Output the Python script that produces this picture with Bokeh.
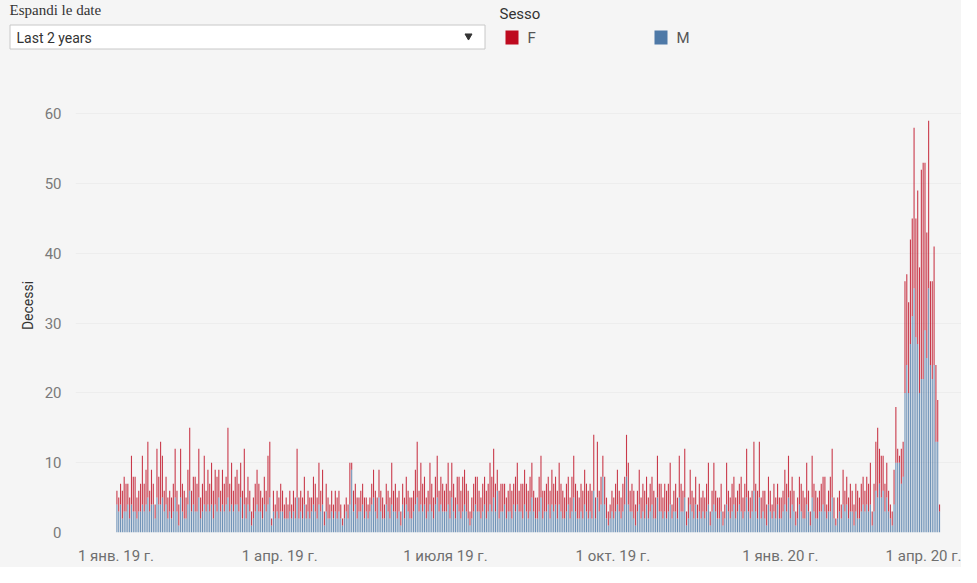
import pandas as pd
from bokeh.plotting import figure
from bokeh.layouts import column
from bokeh.models import ColumnDataSource, Range1d, FixedTicker
from bokeh.core.properties import value
from bokeh.embed import file_html
from bokeh.resources import INLINE

# ---------------- data (daily deaths) ----------------
START = "2019-01-01"

M = [
    # 2019-01
    4,3,4,2,3,3,4,2,4,3, 3,2,3,3,4,3,4,5,3,4, 4,2,5,4,4,5,3,4,2,3, 2,
    # 2019-02
    3,5,3,1,5,3,2,2,4,6, 3,4,3,3,5,2,3,4,3,4, 3,4,2,4,3,5,3,4,
    # 2019-03
    3,4,5,3,4,3,4,4,3,5, 2,4,2,4,3,1,2,3,4,3, 3,2,4,3,4,5,1,3,2,3, 2,
    # 2019-04
    3,3,2,2,2,3,2,3,2,5, 2,3,2,4,2,3,2,3,4,3, 2,4,3,4,1,3,2,2,3,2,
    # 2019-05
    3,2,3,2,1,2,3,2,4,9, 3,4,2,3,3,4,2,3,2,3, 4,5,3,2,5,3,2,2,4,3, 2,
    # 2019-06
    4,3,3,2,3,1,4,2,4,3, 2,2,3,4,5,3,4,3,4,2, 3,4,3,2,4,5,3,4,3,3,
    # 2019-07
    3,4,2,5,3,2,4,3,2,3, 4,3,2,1,2,3,4,3,3,2, 3,4,2,3,4,3,5,3,6,2, 3,
    # 2019-08
    3,4,2,3,3,2,4,3,4,3, 3,2,4,3,2,3,5,3,2,2, 3,5,2,3,3,4,2,4,3,4, 2,
    # 2019-09
    4,3,2,2,3,4,2,3,5,3, 2,2,3,2,4,3,2,3,2,6, 2,5,3,4,8,4,2,1,2,3,
    # 2019-10
    2,3,4,3,2,3,4,8,4,3, 3,2,1,3,4,2,3,2,4,2, 3,4,2,2,5,3,3,2,3,2, 3,
    # 2019-11
    4,2,3,3,2,5,3,3,5,1, 2,4,3,2,4,2,3,2,3,2, 3,4,1,3,4,3,2,2,3,1,
    # 2019-12
    2,4,3,2,3,4,2,3,4,3, 2,3,5,3,2,3,6,3,2,5, 2,3,2,1,4,3,2,3,2,4, 2,
    # 2020-01
    2,3,4,3,5,2,4,3,1,2, 4,3,2,2,4,3,1,5,3,2, 2,3,3,4,3,2,3,3,5,2, 1,
    # 2020-02
    2,3,2,4,3,4,2,3,3,1, 3,2,2,3,4,3,4,3,4,1, 3,6,5,7,5,6,3,5,3,
    # 2020-03
    2,1,4,10,10,10,7,8,20,24, 20,27,31,35,28,27,20,22,22,29, 25,35,24,22,24,13,13,3,
]

F = [
    # 2019-01
    2,2,3,4,5,4,3,3,7,5, 5,3,3,4,7,4,5,8,3,5, 3,2,7,4,9,6,3,4,3,3, 3,
    # 2019-02
    4,7,3,3,7,4,4,3,5,9, 3,4,5,4,7,3,4,7,3,5, 4,6,4,5,5,4,3,5,
    # 2019-03
    4,4,10,4,6,3,4,5,4,5, 4,8,3,4,3,2,3,4,5,4, 3,3,4,3,7,8,1,3,2,3, 3,
    # 2019-04
    4,3,2,3,2,3,2,3,3,7, 3,3,3,4,2,3,3,2,4,4, 3,6,3,5,2,4,3,2,3,2,
    # 2019-05
    3,3,3,2,1,2,2,2,6,1, 3,3,3,2,3,3,3,2,2,2, 3,4,3,3,4,3,3,2,3,3, 3,
    # 2019-06
    6,3,4,3,3,2,3,3,4,3, 3,3,3,5,8,3,6,4,4,3, 3,6,4,3,4,6,3,4,4,3,
    # 2019-07
    4,6,4,5,4,3,4,5,4,5, 5,4,4,2,3,4,4,5,3,3, 4,4,4,4,6,5,7,4,3,4, 4,
    # 2019-08
    4,3,3,3,4,4,3,5,6,3, 4,5,5,4,4,5,5,3,3,3, 5,6,4,3,4,4,4,5,4,4, 4,
    # 2019-09
    6,4,4,3,4,4,3,5,6,4, 4,3,4,4,5,4,4,4,4,8, 3,8,3,4,3,4,3,2,2,3,
    # 2019-10
    3,4,5,3,3,4,4,6,6,3, 4,4,3,3,5,3,4,4,4,3, 4,4,4,3,6,4,4,3,4,4, 4,
    # 2019-11
    6,2,3,4,3,6,4,3,7,2, 3,5,3,3,4,2,4,3,3,3, 4,6,2,3,6,3,3,3,4,2,
    # 2019-12
    2,6,3,3,4,4,3,3,3,5, 3,4,7,3,3,3,7,4,4,8, 3,3,4,3,4,3,2,4,3,3, 3,
    # 2020-01
    3,3,5,4,6,4,4,3,2,3, 4,4,4,3,6,3,2,6,4,4, 3,3,4,4,5,2,3,5,7,3, 1,
    # 2020-02
    3,3,2,5,3,4,3,4,3,3, 4,4,3,4,4,3,4,4,6,2, 4,7,10,5,6,5,4,5,3,
    # 2020-03
    2,2,5,8,2,1,5,5,16,13, 13,15,14,23,17,22,18,30,31,24, 18,24,12,14,17,11,6,1,
]

TICK_DATES = ["2019-01-01", "2019-04-01", "2019-07-01", "2019-10-01", "2020-01-01", "2020-04-01"]
TICK_LABELS = ["1 янв. 19 г.", "1 апр. 19 г.", "1 июля 19 г.", "1 окт. 19 г.", "1 янв. 20 г.", "1 апр. 20 г."]
Y_TICKS = [0, 10, 20, 30, 40, 50, 60]
SERIES = ["M", "F"]           # stacking order, bottom first
LEGEND = ["F", "M"]
FILTER_TITLE = "Espandi le date"
FILTER_VALUE = "Last 2 years"
LEGEND_TITLE = "Sesso"

# ---------------- style ----------------
BG = "#f5f5f5"
RED = "#be0a1f"
BLUE = "#4e79a7"
COLORS = {"F": RED, "M": BLUE}
SANS = "Roboto"
W, H = 961, 567
HEADER_H = 78                                # header strip height (page px)
FRAME_L, FRAME_B = 75, 540                   # chart frame edges in page pixels
PX_DAY = 1.82                                # pixels per day on the x axis
Y_TOP = 65.07                                # value at the top of the frame
DAY_MS = 86400000.0


def ms(ts):
    return pd.Timestamp(ts).value / 1e6


def no_align(fig):
    if "frame_align" in fig.properties():
        fig.frame_align = False


t0 = ms(START)
JAN1_PX = 115.5                              # page x of 1 Jan 2019
x_start = t0 + (FRAME_L - JAN1_PX) / PX_DAY * DAY_MS
x_end = t0 + (W - JAN1_PX) / PX_DAY * DAY_MS

dates = pd.date_range(START, periods=len(M), freq="D") + pd.Timedelta(hours=12)
src = ColumnDataSource(dict(date=dates, M=M, F=F))

# ---------------- header (filter + legend) ----------------
h = figure(width=W, height=HEADER_H, x_range=Range1d(0, W), y_range=Range1d(HEADER_H, 0),
           output_backend="svg", toolbar_location=None, min_border=0,
           background_fill_color=BG, border_fill_color=BG, outline_line_color=None)
h.axis.visible = False
h.grid.visible = False
no_align(h)

h.text(x=[9], y=[1], text=[FILTER_TITLE], text_font=value("Liberation Serif"),
       text_font_size="15px", text_baseline="top", text_color="#333333")
h.quad(left=[9.5], right=[484.5], top=[24.5], bottom=[48.5], fill_color="white",
       line_color="#c8c8c8", line_width=1)
h.text(x=[16], y=[37], text=[FILTER_VALUE], text_font=value(SANS),
       text_font_size="14px", text_baseline="middle", text_color="#333333")
h.scatter(x=[468], y=[35.5], marker="inverted_triangle", size=7, color="#333333")

h.text(x=[499], y=[4], text=[LEGEND_TITLE], text_font=value(SANS),
       text_font_size="15px", text_baseline="top", text_color="#333333")
leg_x = [505, 654]
h.quad(left=leg_x, right=[x + 13 for x in leg_x], top=[30] * 2, bottom=[44] * 2,
       fill_color=[COLORS[k] for k in LEGEND], line_color=None)
h.text(x=[x + 22 for x in leg_x], y=[37] * 2, text=LEGEND, text_font=value(SANS),
       text_font_size="15px", text_baseline="middle", text_color="#555555")

# ---------------- main chart ----------------
p = figure(width=W, height=H - HEADER_H, x_axis_type="datetime",
           x_range=Range1d(x_start, x_end), y_range=Range1d(0, Y_TOP),
           output_backend="svg", toolbar_location=None,
           min_border_left=FRAME_L, min_border_right=0, min_border_top=0,
           min_border_bottom=H - FRAME_B,
           background_fill_color=BG, border_fill_color=BG, outline_line_color=None)
no_align(p)

p.vbar_stack(SERIES, x="date", width=0.6 * DAY_MS, source=src,
             fill_color=[COLORS[s] for s in SERIES], fill_alpha=0.8, line_color=None)

ticks = [ms(d) for d in TICK_DATES]
# Tableau pulls the right-most label inside the view
ticks[-1] -= 5.7 * DAY_MS
p.xaxis.ticker = FixedTicker(ticks=ticks)
p.xaxis.major_label_overrides = {t: lab for t, lab in zip(ticks, TICK_LABELS)}
p.xaxis.major_label_text_font = SANS
p.xaxis.major_label_text_font_size = "15px"
p.xaxis.major_label_text_color = "#6f6f6f"
p.xaxis.major_label_standoff = 8
p.xaxis.axis_line_color = None
p.xaxis.major_tick_line_color = None
p.xaxis.minor_tick_line_color = None

p.yaxis.ticker = FixedTicker(ticks=Y_TICKS)
p.yaxis.major_label_text_font = SANS
p.yaxis.major_label_text_font_size = "15px"
p.yaxis.major_label_text_color = "#7a7a7a"
p.yaxis.major_label_standoff = 8
p.yaxis.axis_line_color = None
p.yaxis.major_tick_line_color = None
p.yaxis.minor_tick_line_color = None
p.yaxis.axis_label = "Decessi"
p.yaxis.axis_label_text_font = SANS
p.yaxis.axis_label_text_font_size = "14px"
p.yaxis.axis_label_text_font_style = "normal"
p.yaxis.axis_label_text_color = "#333333"
p.yaxis.axis_label_standoff = 6

p.xgrid.visible = False
p.ygrid.ticker = FixedTicker(ticks=Y_TICKS)
p.ygrid.grid_line_color = "#ededed"

layout = column(h, p, spacing=0, styles={"background-color": BG})

with open("out.html", "w", encoding="utf-8") as fh:
    fh.write(file_html(layout, INLINE))
